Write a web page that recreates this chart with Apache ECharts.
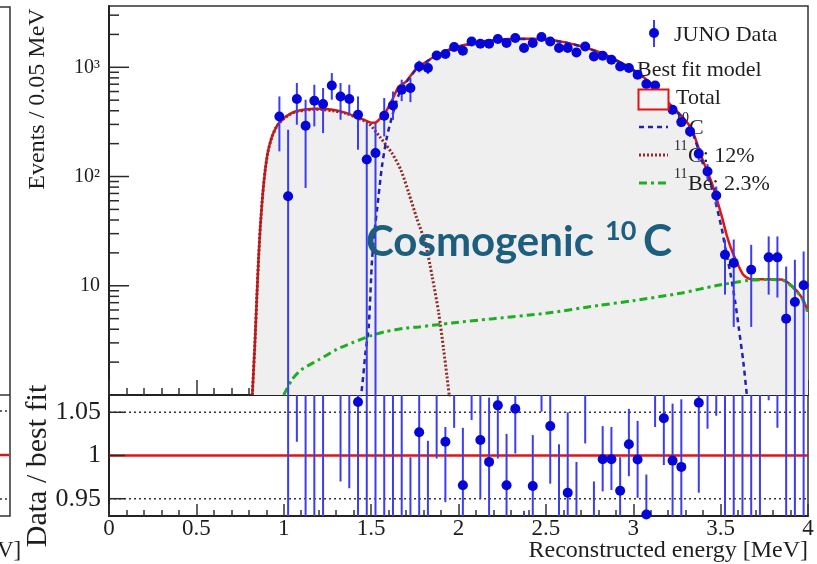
<!DOCTYPE html>
<html><head><meta charset="utf-8">
<script src="https://cdn.jsdelivr.net/npm/echarts@6/dist/echarts.min.js"></script>
<style>html,body{margin:0;padding:0;background:#fff}#c{width:817px;height:564px}</style>
</head><body><div id="c"></div>
<script>
// ---------- data ----------
const dataE = [0.975,1.025,1.075,1.125,1.175,1.225,1.275,1.325,1.375,1.425,1.475,1.525,1.575,1.625,1.675,1.725,1.775,1.825,1.875,1.925,1.975,2.025,2.075,2.125,2.175,2.225,2.275,2.325,2.375,2.425,2.475,2.525,2.575,2.625,2.675,2.725,2.775,2.825,2.875,2.925,2.975,3.025,3.075,3.125,3.175,3.225,3.275,3.325,3.375,3.425,3.475,3.525,3.575,3.675,3.775,3.825,3.875,3.925,3.975];
const dataN = [355,66,512,292,494,461,682,541,512,368,143,164,360,448,623,646,1018,984,1283,1322,1531,1419,1725,1644,1644,1815,1667,1853,1500,1667,1892,1725,1500,1500,1368,1552,1258,1276,1173,1018,984,855,703,682,545,409,315,259,162,111,67,19.2,16.2,14.0,18.2,18.2,5.0,7.1,10.1];
const dataLo = [170,0.5,298,78.5,288,250,505,331,368,176,0.5,0.5,233,330,490,480,900,870,1170,1230,1430,1330,1620,1550,1550,1710,1570,1750,1410,1570,1790,1630,1410,1410,1280,1460,1180,1200,1100,950,920,800,650,630,500,370,285,230,140,93,54,8.3,4.2,4.2,8.3,7.8,0.5,0.5,0.5];
const dataHi = [541,268,718,505,692,646,886,718,692,541,309,309,523,600,770,800,1150,1110,1400,1420,1640,1510,1830,1740,1740,1920,1770,1960,1590,1770,2000,1820,1590,1590,1460,1650,1340,1350,1250,1090,1050,910,760,740,590,450,345,290,185,130,81,26.5,26.5,23.7,28.3,28.3,15,17.3,20.6];

const totalE = [0.82,0.835,0.847,0.856,0.866,0.88,0.894,0.91,0.933,0.96,0.99,1.03,1.066,1.12,1.18,1.22,1.28,1.35,1.42,1.47,1.505,1.53,1.56,1.58,1.62,1.658,1.70,1.753,1.80,1.848,1.90,1.944,2.0,2.039,2.134,2.23,2.325,2.42,2.516,2.611,2.707,2.802,2.897,2.993,3.088,3.183,3.279,3.336,3.393,3.45,3.507,3.535,3.564,3.60,3.632,3.68,3.776,3.85,3.91,3.967,4.0];
const totalV = [1,3,8.6,18,35,70,115,170,233,290,331,370,394,410,418,417,408,385,350,325,310,315,350,381,500,668,740,950,1080,1216,1340,1448,1550,1607,1725,1786,1824,1824,1786,1690,1552,1380,1173,964,742,505,355,268,148,87,43,29,21,15.5,12.5,11.4,11.5,11.4,9.9,7.7,5.8];

const c11E = [0.82,0.835,0.847,0.856,0.866,0.88,0.894,0.91,0.933,0.96,0.99,1.03,1.066,1.12,1.18,1.22,1.28,1.353,1.42,1.486,1.55,1.619,1.67,1.715,1.76,1.81,1.85,1.887,1.915,1.934,1.95];
const c11V = [1,3,8.6,18,35,70,115,170,232,288,328,366,390,405,412,410,400,380,345,307,230,164,115,71,42,24.6,12,5.6,2.6,1.48,0.9];

const c10E = [1.44,1.455,1.467,1.486,1.505,1.52,1.534,1.562,1.591,1.62,1.658,1.70,1.753,1.80,1.848,1.944,2.039,2.134,2.23,2.325,2.42,2.516,2.611,2.707,2.802,2.897,2.993,3.088,3.183,3.279,3.336,3.393,3.45,3.507,3.527,3.556,3.584,3.605,3.63,3.65,3.66];
const c10V = [0.9,1.5,2.4,4.2,17,32,50,124,233,355,560,725,935,1070,1205,1430,1595,1715,1775,1815,1815,1778,1683,1545,1373,1166,957,735,497,346,259,139,78,33,22,13,7,4,2,1,0.7];

const be11E = [1.0,1.047,1.1,1.2,1.3,1.39,1.5,1.58,1.7,1.772,1.963,2.2,2.5,2.8,3.0,3.279,3.47,3.66,3.78,3.85,3.91,3.967,4.0];
const be11V = [1.0,1.38,1.7,2.1,2.6,3.0,3.5,3.8,4.1,4.2,4.56,5.0,5.6,6.6,7.3,8.6,10,11.2,11.4,11.3,9.8,7.6,5.6];

const ratioE = [1.025,1.075,1.125,1.175,1.225,1.275,1.325,1.375,1.425,1.475,1.525,1.575,1.625,1.675,1.725,1.775,1.825,1.875,1.925,1.975,2.025,2.075,2.125,2.175,2.225,2.275,2.325,2.375,2.425,2.475,2.525,2.575,2.625,2.675,2.725,2.775,2.825,2.875,2.925,2.975,3.025,3.075,3.125,3.175,3.225,3.275,3.325,3.375,3.425,3.475,3.525,3.575,3.625,3.675,3.725,3.775,3.825,3.875,3.925,3.975];
const ratioV = [0.18,1.25,0.71,1.20,1.12,1.65,1.35,1.30,1.062,0.45,0.50,0.85,0.88,0.88,0.90,1.027,0.88,1.09,1.016,1.10,0.9655,1.11,1.018,0.9926,1.058,0.9655,1.054,0.87,0.9647,1.11,1.034,0.91,0.957,0.91,1.09,0.90,0.9957,0.9957,0.9593,1.013,0.9953,0.9318,1.10,1.043,0.9941,0.9868,1.15,1.061,1.10,1.12,0.70,0.80,0.0,1.20,0.0,1.50,1.60,0.45,0.70,1.30];
const ratioLo = [0.0,1.016,0.2,0.7,0.6,1.2,0.970,0.962,0.5,0.0,0.0,0.5,0.6,0.7,0.80,0.90,0.75,0.9965,0.946,1.032,0.90,1.041,0.95,0.91,0.9965,0.90,1.0023,0.80,0.90,1.0507,0.9674,0.84,0.88,0.85,1.014,0.83,0.9585,0.96,0.90,0.976,0.951,0.88,1.033,0.989,0.92,0.91,1.08,0.957,1.031,1.046,0.3,0.3,0.0,0.4,0.0,1.064,1.032,0.0,0.0,0.0];
const ratioHi = [1.5,1.5,1.3,1.7,1.6,2.2,1.8,1.7,1.6,1.1,1.1,1.2,1.2,1.1,0.998,1.15,1.017,1.20,1.033,1.20,1.032,1.20,1.09,1.067,1.12,1.025,1.11,0.936,1.0236,1.17,1.10,1.013,1.05,0.9926,1.17,0.970,1.034,1.033,0.998,1.054,1.04,0.978,1.17,1.10,1.06,1.065,1.22,1.16,1.17,1.20,1.3,1.4,1.5,2.0,1.5,2.5,2.5,1.3,1.5,2.0];

const xTickLabels = [0,0.5,1,1.5,2,2.5,3,3.5,4];
const logMajorTicks = [1,10,100,1000];
const logMinorTicks = [2,3,4,5,6,7,8,9,20,30,40,50,60,70,80,90,200,300,400,500,600,700,800,900,2000,3000];
const ratioTicks = [0.95,1,1.05];
const ratioRef = 1;
const ratioGuides = [0.95,1.05];

// ---------- chart ----------
const SERIF = '"Liberation Serif","Times New Roman",serif';
const SANS = 'Lato, "Open Sans", sans-serif';
const TXT = '#1e1e1e';
const TEAL = '#1d5d7e';
const pairs = (xs, ys) => xs.map((x, i) => [x, ys[i]]);

function errItem(params, api) {
  const x = api.value(0);
  const p1 = api.coord([x, api.value(1)]);
  const p2 = api.coord([x, api.value(2)]);
  return {type: 'line', shape: {x1: p1[0], y1: p1[1], x2: p2[0], y2: p2[1]},
          style: {stroke: '#3d3df0', lineWidth: 2}};
}
function tickItem(len) {
  return function (params, api) {
    const p = api.coord([api.value(0), api.value(1)]);
    return {type: 'line', shape: {x1: p[0], y1: p[1], x2: p[0] + len, y2: p[1]},
            style: {stroke: '#2a2a2a', lineWidth: 1.5}};
  };
}
function supLabel(v) {
  if (Math.abs(v - 1000) < 1e-6) return '10\u00B3';
  if (Math.abs(v - 100) < 1e-6) return '10\u00B2';
  if (Math.abs(v - 10) < 1e-6) return '10';
  return '';
}
function ratioLabel(v) {
  for (const t of ratioTicks) if (Math.abs(v - t) < 1e-6) return String(t);
  return '';
}

const axisLineStyle = {color: '#222', width: 2};
const option = {
  animation: false,
  backgroundColor: '#ffffff',
  grid: [
    {left: 109, top: 6, width: 699, height: 389, show: true, borderColor: '#333', borderWidth: 1.5, backgroundColor: 'transparent', outerBoundsMode: 'none'},
    {left: 109, top: 395, width: 699, height: 121, show: true, borderColor: '#333', borderWidth: 1.5, backgroundColor: 'transparent', outerBoundsMode: 'none'}
  ],
  xAxis: [
    {type: 'value', gridIndex: 0, min: 0, max: 4, interval: 0.5,
     axisLine: {show: true, onZero: false, lineStyle: axisLineStyle},
     axisTick: {show: true, inside: true, length: 15, lineStyle: {color: '#333', width: 1.5}},
     minorTick: {show: true, splitNumber: 5, length: 7, lineStyle: {color: '#333', width: 1.5}},
     axisLabel: {show: false}, splitLine: {show: false}},
    {type: 'value', gridIndex: 1, min: 0, max: 4, interval: 0.5,
     axisLine: {show: true, onZero: false, lineStyle: axisLineStyle},
     axisTick: {show: true, inside: true, length: 12, lineStyle: {color: '#333', width: 1.5}},
     minorTick: {show: true, splitNumber: 5, length: 6, lineStyle: {color: '#333', width: 1.5}},
     axisLabel: {show: true, margin: 1, fontFamily: SERIF, fontSize: 23, color: TXT,
                 formatter: v => String(xTickLabels.find(t => Math.abs(t - v) < 1e-6) ?? '')},
     splitLine: {show: false}}
  ],
  yAxis: [
    {type: 'log', logBase: 10, gridIndex: 0, min: 1, max: 3640,
     axisLine: {show: true, onZero: false, lineStyle: axisLineStyle},
     axisTick: {show: false}, splitLine: {show: false},
     axisLabel: {show: true, margin: 9, fontFamily: SERIF, fontSize: 20, color: TXT, formatter: supLabel}},
    {type: 'value', gridIndex: 1, min: 0.93, max: 1.07, interval: 0.01,
     axisLine: {show: true, onZero: false, lineStyle: axisLineStyle},
     axisTick: {show: false}, splitLine: {show: false},
     axisLabel: {show: true, margin: 8, fontFamily: SERIF, fontSize: 26, color: TXT, formatter: ratioLabel}}
  ],
  series: [
    {type: 'line', name: 'Total', xAxisIndex: 0, yAxisIndex: 0, data: pairs(totalE, totalV),
     showSymbol: false, smooth: 0.25, clip: true, z: 2,
     lineStyle: {color: '#e01414', width: 2.5},
     areaStyle: {color: '#efefef', opacity: 1, origin: 'start'}},
    {type: 'line', name: '11C', xAxisIndex: 0, yAxisIndex: 0, data: pairs(c11E, c11V),
     showSymbol: false, smooth: 0.25, clip: true, z: 3,
     lineStyle: {color: '#8e2a2a', width: 3, type: [2, 2]}},
    {type: 'line', name: '10C', xAxisIndex: 0, yAxisIndex: 0, data: pairs(c10E, c10V),
     showSymbol: false, smooth: 0.25, clip: true, z: 3,
     lineStyle: {color: '#2323a8', width: 2.5, type: [5, 4]}},
    {type: 'line', name: '11Be', xAxisIndex: 0, yAxisIndex: 0, data: pairs(be11E, be11V),
     showSymbol: false, smooth: 0.25, clip: true, z: 3,
     lineStyle: {color: '#1fae1f', width: 3, type: [8, 4, 3, 4]}},
    {type: 'custom', name: 'errTop', xAxisIndex: 0, yAxisIndex: 0, renderItem: errItem, clip: true, z: 4,
     data: dataE.map((e, i) => [e, dataLo[i], dataHi[i]]), encode: {x: 0, y: [1, 2]}},
    {type: 'scatter', name: 'JUNO Data', xAxisIndex: 0, yAxisIndex: 0, data: pairs(dataE, dataN),
     symbolSize: 10, clip: true, z: 5, itemStyle: {color: '#0505d8', opacity: 1}},
    {type: 'custom', name: 'logMajor', xAxisIndex: 0, yAxisIndex: 0, renderItem: tickItem(20), z: 6,
     data: logMajorTicks.map(v => [0, v])},
    {type: 'custom', name: 'logMinor', xAxisIndex: 0, yAxisIndex: 0, renderItem: tickItem(10), z: 6,
     data: logMinorTicks.map(v => [0, v])},
    // ratio panel
    {type: 'line', name: 'ref', xAxisIndex: 1, yAxisIndex: 1, data: [[0, ratioRef], [4, ratioRef]],
     showSymbol: false, z: 2, lineStyle: {color: '#e01414', width: 2.5}},
    {type: 'line', name: 'g1', xAxisIndex: 1, yAxisIndex: 1, data: [[0, ratioGuides[0]], [4, ratioGuides[0]]],
     showSymbol: false, z: 2, lineStyle: {color: '#333', width: 1.5, type: [2, 3]}},
    {type: 'line', name: 'g2', xAxisIndex: 1, yAxisIndex: 1, data: [[0, ratioGuides[1]], [4, ratioGuides[1]]],
     showSymbol: false, z: 2, lineStyle: {color: '#333', width: 1.5, type: [2, 3]}},
    {type: 'custom', name: 'errRatio', xAxisIndex: 1, yAxisIndex: 1, renderItem: errItem, clip: true, z: 4,
     data: ratioE.map((e, i) => [e, ratioLo[i], ratioHi[i]]), encode: {x: 0, y: [1, 2]}},
    {type: 'scatter', name: 'ratio', xAxisIndex: 1, yAxisIndex: 1, data: pairs(ratioE, ratioV),
     symbolSize: 10, clip: true, z: 5, itemStyle: {color: '#0505d8', opacity: 1}},
    {type: 'custom', name: 'ratioTicks', xAxisIndex: 1, yAxisIndex: 1, renderItem: tickItem(16), z: 6,
     data: ratioTicks.map(v => [0, v])}
  ],
  graphic: [
    // axis titles
    {type: 'text', x: 38, y: 99, rotation: Math.PI / 2, z: 10,
     style: {text: 'Events / 0.05 MeV', font: '24px ' + SERIF, fill: TXT, align: 'center', verticalAlign: 'middle'}},
    {type: 'text', x: 38, y: 466, rotation: Math.PI / 2, z: 10,
     style: {text: 'Data / best fit', font: '30px ' + SERIF, fill: TXT, align: 'center', verticalAlign: 'middle'}},
    {type: 'text', x: 808, y: 551, z: 10,
     style: {text: 'Reconstructed energy [MeV]', font: '24px ' + SERIF, fill: TXT, align: 'right', verticalAlign: 'middle'}},
    // legend
    {type: 'line', shape: {x1: 654, y1: 20, x2: 654, y2: 47}, style: {stroke: '#3d3df0', lineWidth: 2}, z: 3},
    {type: 'circle', shape: {cx: 654, cy: 33, r: 5}, style: {fill: '#0505d8'}, z: 3},
    {type: 'text', x: 674, y: 35, z: 3, style: {text: 'JUNO Data', font: '22px ' + SERIF, fill: TXT, verticalAlign: 'middle'}},
    {type: 'text', x: 637, y: 70, z: 3, style: {text: 'Best fit model', font: '22px ' + SERIF, fill: TXT, verticalAlign: 'middle'}},
    {type: 'rect', shape: {x: 638.5, y: 89.5, width: 30, height: 20}, style: {fill: '#f4f4f4', stroke: '#e01414', lineWidth: 2}, z: 20},
    {type: 'text', x: 676, y: 98, z: 3, style: {text: 'Total', font: '22px ' + SERIF, fill: TXT, verticalAlign: 'middle'}},
    {type: 'line', shape: {x1: 639, y1: 127, x2: 668, y2: 127}, style: {stroke: '#2323a8', lineWidth: 2.5, lineDash: [5, 4]}, z: 3},
    {type: 'text', x: 675, y: 118, z: 3, style: {text: '10', font: '14px ' + SERIF, fill: TXT, verticalAlign: 'middle'}},
    {type: 'text', x: 689, y: 128, z: 3, style: {text: 'C', font: '22px ' + SERIF, fill: TXT, verticalAlign: 'middle'}},
    {type: 'line', shape: {x1: 639, y1: 155, x2: 668, y2: 155}, style: {stroke: '#8e2a2a', lineWidth: 3, lineDash: [2, 2]}, z: 3},
    {type: 'text', x: 674, y: 146, z: 3, style: {text: '11', font: '14px ' + SERIF, fill: TXT, verticalAlign: 'middle'}},
    {type: 'text', x: 688, y: 156, z: 3, style: {text: 'C: 12%', font: '22px ' + SERIF, fill: TXT, verticalAlign: 'middle'}},
    {type: 'line', shape: {x1: 639, y1: 183, x2: 668, y2: 183}, style: {stroke: '#1fae1f', lineWidth: 3, lineDash: [8, 4, 3, 4]}, z: 3},
    {type: 'text', x: 674, y: 174, z: 3, style: {text: '11', font: '14px ' + SERIF, fill: TXT, verticalAlign: 'middle'}},
    {type: 'text', x: 688, y: 184, z: 3, style: {text: 'Be: 2.3%', font: '22px ' + SERIF, fill: TXT, verticalAlign: 'middle'}},
    // annotation
    {type: 'text', x: 366, y: 242, z: 30, style: {text: 'Cosmogenic', font: 'bold 42px ' + SANS, fill: TEAL, verticalAlign: 'middle'}},
    {type: 'text', x: 605, y: 231, z: 30, style: {text: '10', font: 'bold 27px ' + SANS, fill: TEAL, verticalAlign: 'middle'}},
    {type: 'text', x: 643, y: 242, z: 30, style: {text: 'C', font: 'bold 44px ' + SANS, fill: TEAL, verticalAlign: 'middle'}},
    // fragment of the neighbouring panel at the left edge
    {type: 'polyline', shape: {points: [[0, 7], [10, 7], [10, 516], [0, 516]]}, style: {stroke: '#333', lineWidth: 1.5, fill: null}, z: 1},
    {type: 'line', shape: {x1: 0, y1: 395, x2: 10, y2: 395}, style: {stroke: '#333', lineWidth: 1.5}, z: 1},
    {type: 'line', shape: {x1: 0, y1: 455, x2: 9, y2: 455}, style: {stroke: '#e01414', lineWidth: 2.5}, z: 1},
    {type: 'line', shape: {x1: 0, y1: 411, x2: 9, y2: 411}, style: {stroke: '#333', lineWidth: 1.5, lineDash: [2, 3]}, z: 1},
    {type: 'line', shape: {x1: 0, y1: 499, x2: 9, y2: 499}, style: {stroke: '#333', lineWidth: 1.5, lineDash: [2, 3]}, z: 1},
    {type: 'text', x: -3, y: 551, z: 1, style: {text: 'V]', font: '23px ' + SERIF, fill: TXT, verticalAlign: 'middle'}}
  ]
};
const chart = echarts.init(document.getElementById('c'), null, {renderer: 'canvas'});
chart.setOption(option);
</script>
</body></html>
